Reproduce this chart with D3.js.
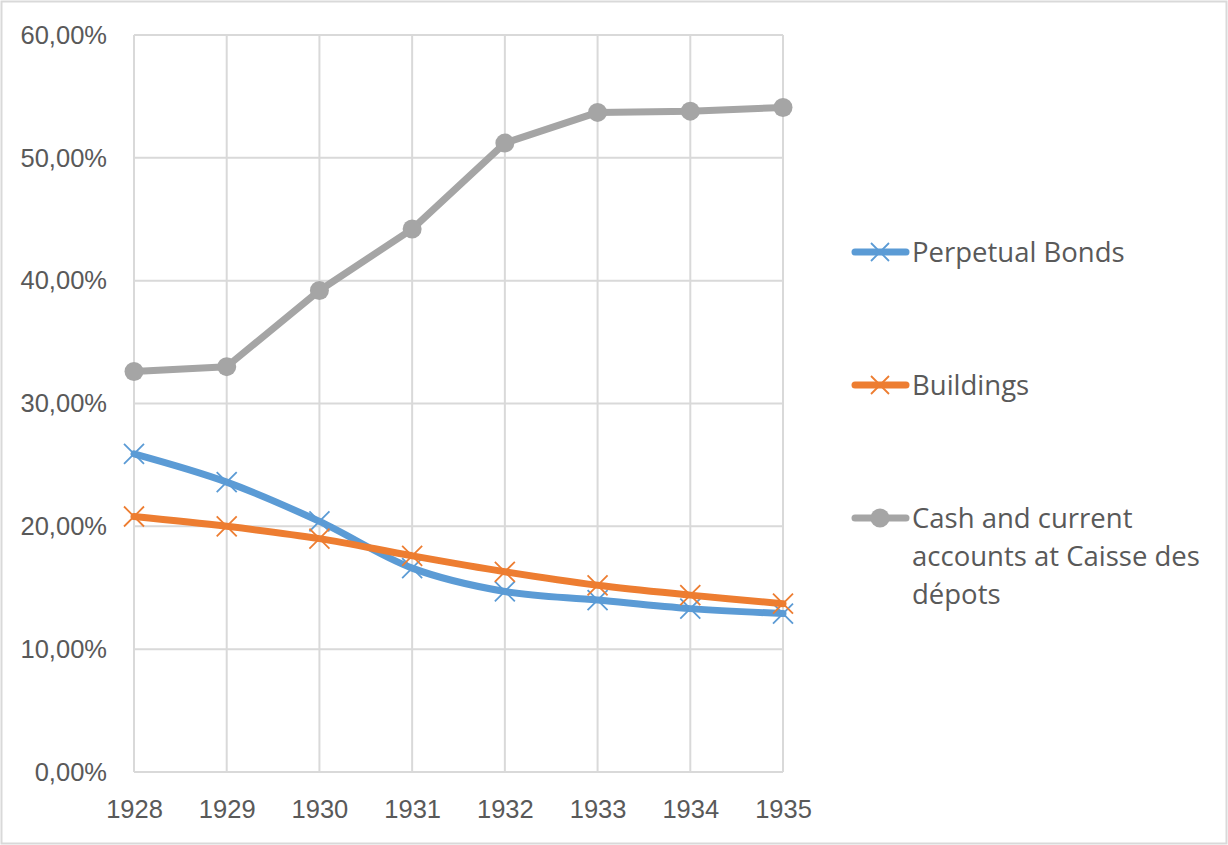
<!DOCTYPE html>
<html>
<head>
<meta charset="utf-8">
<script src="https://cdn.jsdelivr.net/npm/d3@7"></script>
<style>
  body { margin: 0; background: #fff; }
  svg { font-family: "Open Sans", "Liberation Sans", sans-serif; }
  .grid line { stroke: #d9d9d9; stroke-width: 2px; }
  .axis text { fill: #595959; font-size: 25.5px; }
  .legend text { fill: #595959; font-size: 27.5px; }
</style>
</head>
<body>
<svg id="chart" width="1228" height="845"></svg>
<script>
// data
const years = ["1928", "1929", "1930", "1931", "1932", "1933", "1934", "1935"];
const perpetualBonds = [25.9, 23.6, 20.4, 16.6, 14.7, 14.0, 13.3, 12.9];
const buildings = [20.8, 20.0, 19.0, 17.6, 16.3, 15.2, 14.4, 13.7];
const cashAccounts = [32.6, 33.0, 39.2, 44.2, 51.2, 53.7, 53.8, 54.1];
const yTicks = [0, 10, 20, 30, 40, 50, 60];

const series = [
  { name: ["Perpetual Bonds"], values: perpetualBonds, color: "#5b9bd5", marker: "x", smooth: true },
  { name: ["Buildings"], values: buildings, color: "#ed7d31", marker: "x", smooth: true },
  { name: ["Cash and current", "accounts at Caisse des", "dépots"], values: cashAccounts, color: "#a5a5a5", marker: "circle", smooth: false }
];

const margin = { top: 35, left: 134 };
const width = 649, height = 737;

const svg = d3.select("#chart");

// outer border
svg.append("rect")
  .attr("x", 1.5).attr("y", 1.5)
  .attr("width", 1225).attr("height", 842)
  .attr("fill", "none").attr("stroke", "#d9d9d9").attr("stroke-width", 2);

const chart = svg.append("g").attr("transform", "translate(" + margin.left + "," + margin.top + ")");

const x = d3.scalePoint().domain(years).range([0, width]);
const y = d3.scaleLinear().domain([0, 60]).range([height, 0]);

// gridlines
const grid = chart.append("g").attr("class", "grid");
grid.selectAll("line.h").data(yTicks).enter().append("line")
  .attr("class", "h")
  .attr("x1", 0).attr("x2", width)
  .attr("y1", d => y(d)).attr("y2", d => y(d));
grid.selectAll("line.v").data(years).enter().append("line")
  .attr("class", "v")
  .attr("x1", d => x(d)).attr("x2", d => x(d))
  .attr("y1", 0).attr("y2", height);

// axes (labels only, Excel style)
const fmt = d => d.toFixed(2).replace(".", ",") + "%";
chart.append("g").attr("class", "axis")
  .call(d3.axisLeft(y).tickValues(yTicks).tickFormat(fmt).tickSize(0).tickPadding(27));
chart.append("g").attr("class", "axis")
  .attr("transform", "translate(0," + height + ")")
  .call(d3.axisBottom(x).tickSize(0).tickPadding(28));
chart.selectAll(".axis .domain").remove();

// lines
series.forEach(s => {
  const line = d3.line()
    .x((d, i) => x(years[i]))
    .y(d => y(d))
    .curve(s.smooth ? d3.curveCatmullRom.alpha(0.5) : d3.curveLinear);

  chart.append("path")
    .datum(s.values)
    .attr("fill", "none")
    .attr("stroke", s.color)
    .attr("stroke-width", 7)
    .attr("stroke-linejoin", "round")
    .attr("stroke-linecap", "round")
    .attr("d", line);

  const pts = chart.append("g");
  s.values.forEach((v, i) => {
    drawMarker(pts, x(years[i]), y(v), s, 10);
  });
});

function drawMarker(g, cx, cy, s, r) {
  if (s.marker === "circle") {
    g.append("circle").attr("cx", cx).attr("cy", cy).attr("r", r - 0.5).attr("fill", s.color);
  } else {
    g.append("path")
      .attr("d", "M" + (cx - r) + "," + (cy - r) + "L" + (cx + r) + "," + (cy + r) +
                 "M" + (cx - r) + "," + (cy + r) + "L" + (cx + r) + "," + (cy - r))
      .attr("stroke", s.color).attr("stroke-width", 1.8).attr("fill", "none");
  }
}

// legend
const legendY = [252, 385, 518];
const legend = svg.append("g").attr("class", "legend");
series.forEach((s, i) => {
  const ly = legendY[i];
  legend.append("line")
    .attr("x1", 855).attr("x2", 906).attr("y1", ly).attr("y2", ly)
    .attr("stroke", s.color).attr("stroke-width", 7).attr("stroke-linecap", "round");
  drawMarker(legend, 880, ly, s, s.marker === "circle" ? 10 : 9);
  const t = legend.append("text").attr("x", 912).attr("y", ly + 10);
  s.name.forEach((part, j) => {
    t.append("tspan").attr("x", 912).attr("dy", j === 0 ? 0 : 38).text(part);
  });
});
</script>
</body>
</html>
